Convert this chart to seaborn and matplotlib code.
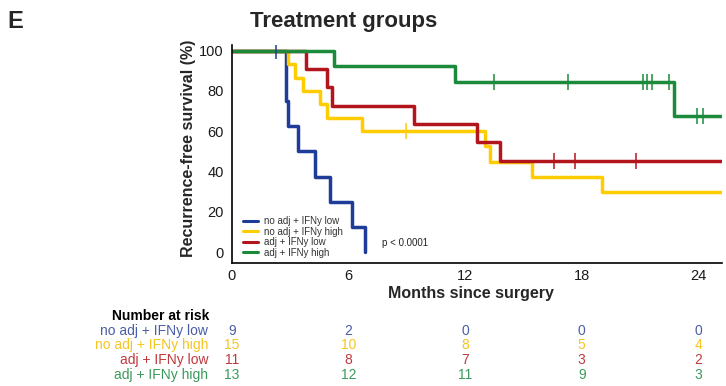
import numpy as np
import pandas as pd
import matplotlib
matplotlib.use("Agg")
import matplotlib.pyplot as plt
import seaborn as sns
from matplotlib.lines import Line2D
from matplotlib.transforms import blended_transform_factory

# Treatment groups
groups = ["no adj + IFNy low", "no adj + IFNy high", "adj + IFNy low", "adj + IFNy high"]
line_colors = ["#1f3d98", "#ffcc00", "#b3151d", "#1b8b3b"]
text_colors = ["#4a5ea8", "#f5c521", "#c0393d", "#3b9a5c"]

# Months to recurrence (events) and to last follow-up (censored), per group
events_noadj_low = [2.78, 2.80, 2.92, 3.42, 4.28, 5.05, 6.17, 6.86]
censor_noadj_low = [2.27]
events_noadj_high = [2.90, 3.25, 3.68, 4.54, 4.88, 6.68, 13.04, 13.30, 15.45, 19.06]
censor_noadj_high = [8.95, 26.0, 27.0, 28.5, 30.0]
events_adj_low = [3.81, 4.88, 5.14, 9.35, 12.61, 13.81]
censor_adj_low = [16.60, 17.68, 20.80, 26.5, 29.0]
events_adj_high = [5.26, 11.50, 22.75]
censor_adj_high = [13.47, 17.30, 21.15, 21.37, 21.60, 22.49, 23.95, 24.26, 27.0, 29.5]

risk_times = [0, 6, 12, 18, 24]
y_ticks = [0, 20, 40, 60, 80, 100]
p_label = "p < 0.0001"

all_events = [events_noadj_low, events_noadj_high, events_adj_low, events_adj_high]
all_censor = [censor_noadj_low, censor_noadj_high, censor_adj_low, censor_adj_high]


def kaplan_meier(ev, ce):
    """Return step coordinates and survival at censor times (in %)."""
    times = np.array(list(ev) + list(ce), dtype=float)
    is_event = np.array([1] * len(ev) + [0] * len(ce))
    order = np.argsort(times, kind="stable")
    times, is_event = times[order], is_event[order]
    surv = 100.0
    xs, ys = [0.0], [100.0]
    cens_x, cens_y = [], []
    for t in np.unique(times):
        at_risk = np.sum(times >= t)
        d = np.sum((times == t) & (is_event == 1))
        c = np.sum((times == t) & (is_event == 0))
        if d > 0:
            surv *= (1 - d / at_risk)
            xs.append(t)
            ys.append(surv)
        if c > 0:
            cens_x.append(t)
            cens_y.append(surv)
    xs.append(times.max())
    ys.append(surv)
    return xs, ys, cens_x, cens_y, times


curve_frames, cens_frames, risk = [], [], []
for g, ev, ce in zip(groups, all_events, all_censor):
    xs, ys, cx, cy, times = kaplan_meier(ev, ce)
    curve_frames.append(pd.DataFrame({"month": xs, "surv": ys, "group": g}))
    cens_frames.append(pd.DataFrame({"month": cx, "surv": cy, "group": g}))
    risk.append([int(np.sum(times >= t)) for t in risk_times])
curves = pd.concat(curve_frames, ignore_index=True)
censored = pd.concat(cens_frames, ignore_index=True)

sns.set_theme(style="white")
plt.rcParams["font.family"] = ["Liberation Sans", "DejaVu Sans"]

W, H = 726, 386
fig = plt.figure(figsize=(W / 100, H / 100), dpi=100)
ax_l, ax_r, ax_t, ax_b = 231.7, 721.7, 45.0, 262.7
ax = fig.add_axes([ax_l / W, 1 - ax_b / H, (ax_r - ax_l) / W, (ax_b - ax_t) / H])

palette = dict(zip(groups, line_colors))
sns.lineplot(data=curves, x="month", y="surv", hue="group", hue_order=groups,
             palette=palette, drawstyle="steps-post", estimator=None, sort=False,
             linewidth=2.5, legend=False, ax=ax)
for g in groups:
    sub = censored[censored["group"] == g]
    ax.plot(sub["month"], sub["surv"], ls="none", marker="|", markersize=11,
            markeredgewidth=1.1, color=palette[g], zorder=5)

ax.set_xlim(0, 25.2)
ax.set_ylim(-5.16, 102.8)
ax.set_xticks(risk_times)
ax.set_yticks(y_ticks)
ax.set_xlabel("")
ax.set_ylabel("")
for side in ["top", "right"]:
    ax.spines[side].set_visible(False)
for side in ["left", "bottom"]:
    ax.spines[side].set_color("black")
    ax.spines[side].set_linewidth(1.2)
ax.tick_params(axis="both", which="major", direction="out", length=3, width=1.1,
               color="black", labelsize=10.5, labelcolor="#1a1a1a")
ax.tick_params(axis="x", pad=1.5)
ax.tick_params(axis="y", pad=2.7)

# Legend
handles = [Line2D([0], [0], color=c, lw=2.2) for c in line_colors]
leg = ax.legend(handles, groups, loc="lower left",
                bbox_to_anchor=((242.7 - ax_l) / (ax_r - ax_l), (ax_b - 257.5) / (ax_b - ax_t)),
                frameon=False, fontsize=7, handlelength=1.55, handletextpad=0.6,
                labelspacing=0.05, borderpad=0, borderaxespad=0)
for t in leg.get_texts():
    t.set_color("#333333")

ax.text(7.72, 4.8, p_label, fontsize=7, color="#222222", ha="left", va="center")

# Titles and axis labels
fig.text(7 / W, 1 - 28.3 / H, "E", fontsize=17, fontweight="bold", ha="left", va="baseline")
fig.text(250 / W, 1 - 27.3 / H, "Treatment groups", fontsize=16, fontweight="bold",
         ha="left", va="baseline")
fig.text(188 / W, 1 - 148 / H, "Recurrence-free survival (%)", fontsize=11.5,
         fontweight="bold", rotation=90, ha="center", va="center")
fig.text(471 / W, 1 - 298 / H, "Months since surgery", fontsize=11.5, fontweight="bold",
         ha="center", va="baseline")

# Number at risk table
fig.text(209.3 / W, 1 - 320 / H, "Number at risk", fontsize=10, fontweight="bold",
         ha="right", va="baseline", color="black")
trans = blended_transform_factory(ax.transData, fig.transFigure)
row_baselines = [335, 349, 364, 379]
for g, col, counts, yb in zip(groups, text_colors, risk, row_baselines):
    fig.text(208.3 / W, 1 - yb / H, g, fontsize=10, ha="right", va="baseline", color=col)
    for t, n in zip(risk_times, counts):
        ax.text(t, 1 - yb / H, str(n), transform=trans, fontsize=10, ha="center",
                va="baseline", color=col, clip_on=False)

fig.savefig("out.png", dpi=100)
